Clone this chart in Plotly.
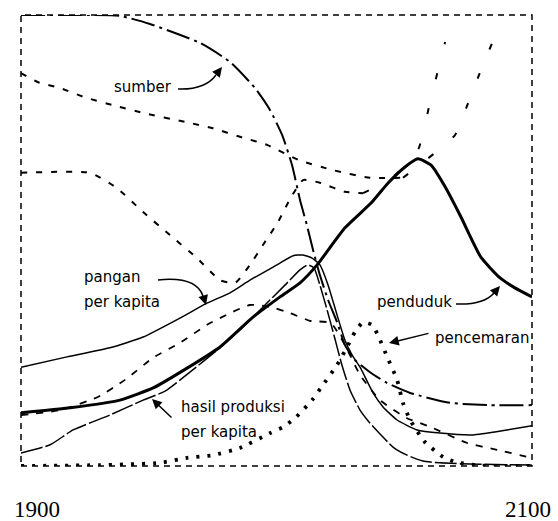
import plotly.graph_objects as go

# ---- data (years, relative level 0-100) ----
years_sumber = [1900, 1923.1, 1938.7, 1950.5, 1970.1, 1981.8, 1991.6, 1997.5, 2002.2, 2006.1, 2009.2, 2011.9,
                2014.3, 2017.0, 2020.2, 2023.7, 2026.8, 2030.7, 2036.6, 2043.3, 2052.3, 2067.9, 2083.6, 2100]
sumber = [100, 100, 99.8, 98.0, 93.8, 89.6, 83.8, 78.9, 73.4, 66.7, 59.0, 53.4,
          47.9, 42.3, 36.8, 31.9, 26.8, 23.5, 20.8, 18.4, 16.2, 14.0, 13.5, 13.5]

years_penduduk = [1900, 1919.2, 1938.7, 1951.7, 1965.0, 1977.9, 1990.8, 2001.4, 2009.2, 2015.9, 2026.8,
                  2037.0, 2043.6, 2050.3, 2055.4, 2060.5, 2066.0, 2072.2, 2080.0, 2087.5, 2093.3, 2100]
penduduk = [11.8, 12.9, 14.6, 17.3, 21.7, 26.4, 33.0, 37.5, 40.6, 44.6, 52.8,
            58.3, 62.7, 66.3, 68.1, 66.7, 61.9, 55.2, 46.3, 41.7, 39.5, 37.5]

years_pangan = [1900, 1918.0, 1934.8, 1947.8, 1962.2, 1972.8, 1981.8, 1989.6, 2000.2, 2006.5, 2010.4, 2013.9,
                2017.0, 2020.2, 2023.7, 2026.8, 2029.6, 2032.7, 2037.8, 2041.7, 2047.2, 2055.0, 2064.0,
                2076.9, 2090.2, 2100]
pangan = [21.9, 24.2, 26.2, 28.6, 32.8, 36.1, 38.4, 41.2, 44.6, 46.6, 46.8, 46.1,
          44.6, 40.1, 33.5, 27.9, 24.6, 21.9, 16.2, 13.1, 10.2, 8.0, 7.3,
          6.9, 8.0, 8.9]

years_industri = [1900, 1911.4, 1920.4, 1934.8, 1947.8, 1956.4, 1966.1, 1975.9, 1985.7, 1995.5, 2003.3, 2009.2,
                  2012.3, 2014.7, 2017.0, 2019.8, 2022.5, 2025.6, 2028.8, 2032.7, 2036.6, 2040.5, 2045.6,
                  2051.1, 2057.3, 2064.0, 2079.6, 2100]
industri = [2.9, 4.7, 8.0, 11.3, 14.6, 16.6, 20.8, 25.3, 30.2, 35.7, 40.1, 43.5,
            44.6, 43.9, 40.1, 34.6, 29.0, 22.4, 16.8, 12.4, 9.5, 7.1, 4.2,
            2.4, 1.1, 0.7, 0.4, 0.2]

years_pencemaran = [1900, 1930.9, 1954.4, 1965.0, 1975.1, 1985.7, 1997.5, 2002.5, 2007.2, 2013.9, 2018.2,
                    2023.7, 2028.0, 2030.7, 2033.9, 2037.4, 2039.7, 2043.3, 2047.2, 2049.5, 2052.3, 2058.1,
                    2065.2, 2069.9, 2079.6, 2100]
pencemaran = [0, 0.2, 0.7, 1.8, 2.4, 4.0, 7.3, 8.6, 10.6, 14.6, 18.0,
              22.4, 26.8, 29.7, 31.9, 31.3, 29.0, 24.2, 19.1, 14.0, 10.2, 5.3,
              2.0, 0.9, 0.1, 0]

years_lahir = [1900, 1906.7, 1915.3, 1924.7, 1936.0, 1947.8, 1964.2, 1975.1, 1985.7, 1996.3, 2008.4,
               2022.1, 2036.6, 2049.5, 2064.4, 2069.9, 2075.0, 2080.8, 2085.9]
lahir = [87.1, 85.1, 83.8, 81.8, 80.0, 78.3, 76.3, 74.9, 73.0, 71.2, 67.9,
         65.6, 63.9, 63.9, 70.5, 73.4, 80.5, 88.9, 95.8]

years_kematian = [1900, 1927.0, 1937.6, 1947.8, 1958.3, 1968.9, 1977.9, 1983.8, 1989.6, 1994.7, 2000.6,
                  2005.3, 2010.4, 2017.0, 2026.8, 2033.9, 2045.2, 2055.4, 2060.1, 2066.0]
kematian = [65.0, 65.0, 61.6, 56.3, 51.2, 46.1, 41.2, 40.6, 44.6, 49.0, 54.1,
            59.2, 63.4, 62.8, 60.8, 60.5, 63.9, 70.1, 80.7, 94.0]

years_jasa = [1900, 1915.3, 1930.1, 1940.7, 1951.7, 1962.2, 1972.8, 1981.8, 1989.6, 1997.5, 2005.3, 2013.1,
              2021.3, 2026.8, 2032.7, 2040.5, 2051.1, 2060.1, 2074.6, 2086.3, 2100]
jasa = [11.3, 12.4, 15.3, 19.1, 24.0, 27.3, 31.3, 33.9, 35.7, 35.3, 33.9, 32.2,
        31.7, 26.8, 20.2, 14.6, 10.6, 8.7, 5.1, 3.6, 1.8]

year_labels = ["1900", "2100"]

# ---- figure ----
W, H = 558, 521
L, R, T, B = 21, 26, 15, 55
PW, PH = W - L - R, H - T - B

fig = go.Figure()


def add(x, y, width, dash, smooth=0.5):
    fig.add_trace(go.Scatter(
        x=x, y=y, mode="lines", showlegend=False, hoverinfo="skip",
        line=dict(color="black", width=width, dash=dash, shape="spline", smoothing=smooth)))


# birth / death rates: regular dashes early, sparse dashes in the late rise
add(years_lahir[:14], lahir[:14], 2, "6px,9px")
add(years_lahir[13:], lahir[13:], 2, "6px,26px")
add(years_kematian[:16], kematian[:16], 2, "6px,9px")
add(years_kematian[15:], kematian[15:], 2, "6px,30px")
add(years_jasa, jasa, 1.8, "7px,8px")
add(years_pencemaran, pencemaran, 3.8, "3px,8px")
add(years_industri, industri, 1.5, "22px,3px")
add(years_pangan, pangan, 1.5, "solid")
add(years_sumber, sumber, 2, "24px,5px,3px,5px")
add(years_penduduk, penduduk, 3, "solid")


def pp(px, py):
    return (px - L) / PW, (T + PH - py) / PH


shapes = [dict(type="rect", xref="paper", yref="paper", x0=0, y0=0, x1=1, y1=1,
               line=dict(color="black", width=1.5, dash="6px,5px"))]


def curve(p0, c, p1):
    a, b, d = pp(*p0), pp(*c), pp(*p1)
    shapes.append(dict(type="path", xref="paper", yref="paper",
                       path=f"M {a[0]},{a[1]} Q {b[0]},{b[1]} {d[0]},{d[1]}",
                       line=dict(color="black", width=1.5)))


curve((178, 89), (205, 90), (216, 75))
curve((158, 280), (196, 276), (203, 296))
curve((456, 304), (484, 305), (494, 293))

annotations = []


def head(px, py, ax, ay):
    x, y = pp(px, py)
    annotations.append(dict(x=x, y=y, xref="paper", yref="paper", text="", showarrow=True,
                            ax=ax, ay=ay, arrowhead=2, arrowsize=1.3, arrowwidth=1.5,
                            arrowcolor="black"))


head(222, 67, -7, 9)
head(206, 305, -3, -10)
head(500, 286, -7, 8)
head(389, 343, 41, -10)
head(152, 399, 21, 20)

lab_font = dict(family="DejaVu Sans", size=15, color="black")


def label(txt, px, py):
    x, y = pp(px, py)
    annotations.append(dict(x=x, y=y, xref="paper", yref="paper", text=txt, showarrow=False,
                            xanchor="left", yanchor="middle", font=lab_font))


label("sumber", 112, 87)
label("pangan", 82, 277)
label("per kapita", 82, 302)
label("hasil produksi", 179, 407)
label("per kapita", 179, 432)
label("penduduk", 375, 302)
label("pencemaran", 433, 338)

yr_font = dict(family="Liberation Serif", size=23, color="black")
x1, y1 = pp(13, 509)
x2, y2 = pp(552, 509)
annotations.append(dict(x=x1, y=y1, xref="paper", yref="paper", text=year_labels[0], showarrow=False,
                        xanchor="left", yanchor="middle", font=yr_font, height=22, borderpad=0))
annotations.append(dict(x=x2, y=y2, xref="paper", yref="paper", text=year_labels[1], showarrow=False,
                        xanchor="right", yanchor="middle", font=yr_font, height=22, borderpad=0))

fig.update_layout(
    width=W, height=H, margin=dict(l=L, r=R, t=T, b=B, pad=0),
    paper_bgcolor="white", plot_bgcolor="white",
    xaxis=dict(range=[1900, 2100], visible=False, fixedrange=True),
    yaxis=dict(range=[0, 100], visible=False, fixedrange=True),
    shapes=shapes, annotations=annotations, showlegend=False,
)

fig.write_html("out.html", config={"displayModeBar": False},
               post_script="document.body.style.margin='0';document.body.style.overflow='hidden';")
